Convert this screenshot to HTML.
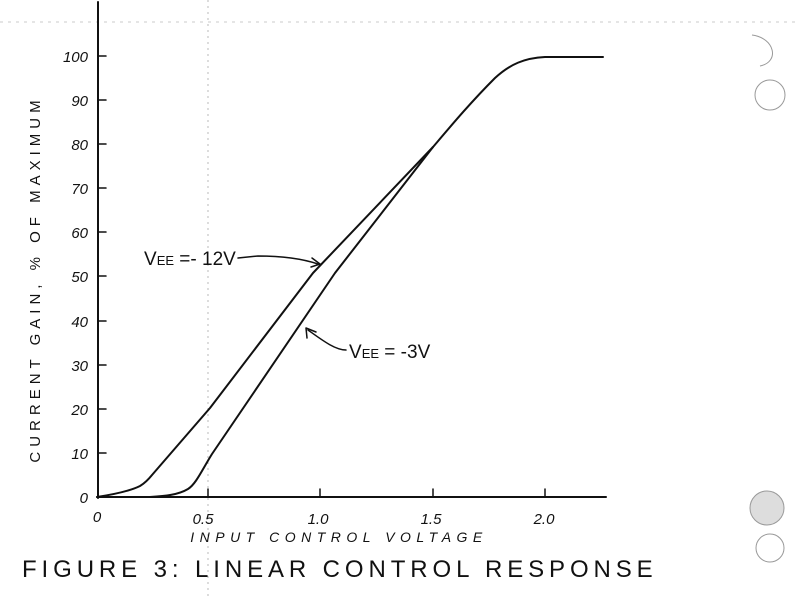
<!DOCTYPE html>
<html><head><meta charset="utf-8"><style>
html,body{margin:0;padding:0;background:#fff;}
svg{display:block;}
text{font-family:"Liberation Sans",sans-serif;fill:#111;}
</style></head><body>
<svg width="800" height="596" viewBox="0 0 800 596" xmlns="http://www.w3.org/2000/svg">
<line x1="0" y1="22" x2="800" y2="22" stroke="#bbb" stroke-width="0.8" stroke-dasharray="3,5"/>
<line x1="208" y1="0" x2="208" y2="596" stroke="#aaa" stroke-width="0.8" stroke-dasharray="2,4"/>
<g stroke="#111" stroke-width="2" fill="none" stroke-linecap="round" stroke-linejoin="round">
<line x1="98" y1="2" x2="98" y2="498"/>
<line x1="97" y1="497" x2="606" y2="497"/>
<g stroke-width="1.5">
<line x1="98" y1="453" x2="106" y2="453"/><line x1="98" y1="409" x2="106" y2="409"/>
<line x1="98" y1="365" x2="106" y2="365"/><line x1="98" y1="321" x2="106" y2="321"/>
<line x1="98" y1="276" x2="106" y2="276"/><line x1="98" y1="232" x2="106" y2="232"/>
<line x1="98" y1="188" x2="106" y2="188"/><line x1="98" y1="144" x2="106" y2="144"/>
<line x1="98" y1="100" x2="106" y2="100"/><line x1="98" y1="56" x2="106" y2="56"/>
<line x1="208" y1="497" x2="208" y2="489"/><line x1="320" y1="497" x2="320" y2="489"/>
<line x1="433" y1="497" x2="433" y2="489"/><line x1="545" y1="497" x2="545" y2="489"/>
</g>
<path d="M97,497 C110,495 128,492 140,486 C145,483 148,480 152,475 L210,408 L313,273 L433,147 C450,127 470,103 495,78 C510,64 525,58 545,57 L603,57"/>
<path d="M150,497 C165,496 178,495 188,489 C196,484 202,470 212,454 L335,273 L433,147"/>
<path d="M238,258 L258,256 C280,256 300,258 318,264" stroke-width="1.5"/>
<path d="M312,258 L320,264 L311,267" stroke-width="1.5"/>
<path d="M346,350 C335,350 322,340 308,330" stroke-width="1.5"/>
<path d="M307,338 L306,328 L316,332" stroke-width="1.5"/>
</g>
<g font-size="15" text-anchor="end" font-style="italic">
<text x="88" y="503">0</text><text x="88" y="459">10</text><text x="88" y="415">20</text>
<text x="88" y="371">30</text><text x="88" y="327">40</text><text x="88" y="282">50</text>
<text x="88" y="238">60</text><text x="88" y="194">70</text><text x="88" y="150">80</text>
<text x="88" y="106">90</text><text x="88" y="62">100</text>
</g>
<g font-size="15" text-anchor="middle" font-style="italic">
<text x="97" y="522">0</text><text x="203" y="524">0.5</text><text x="318" y="524">1.0</text>
<text x="431" y="524">1.5</text><text x="544" y="524">2.0</text>
</g>
<text x="339" y="542" font-size="14" text-anchor="middle" letter-spacing="5.5" font-style="italic">INPUT CONTROL VOLTAGE</text>
<text transform="translate(40,279) rotate(-90)" font-size="15" text-anchor="middle" letter-spacing="5">CURRENT GAIN, % OF MAXIMUM</text>
<text x="144" y="265" font-size="19">V<tspan font-size="13">EE</tspan> =- 12V</text>
<text x="349" y="358" font-size="19">V<tspan font-size="13">EE</tspan> = -3V</text>
<text x="22" y="577" font-size="24" letter-spacing="4.9">FIGURE 3: LINEAR CONTROL RESPONSE</text>
<g fill="none" stroke="#999" stroke-width="1">
<path d="M752,35 C775,38 780,62 760,66"/>
<circle cx="770" cy="95" r="15"/>
<circle cx="767" cy="508" r="17" fill="#ddd"/>
<circle cx="770" cy="548" r="14"/>
</g>
</svg>
</body></html>
